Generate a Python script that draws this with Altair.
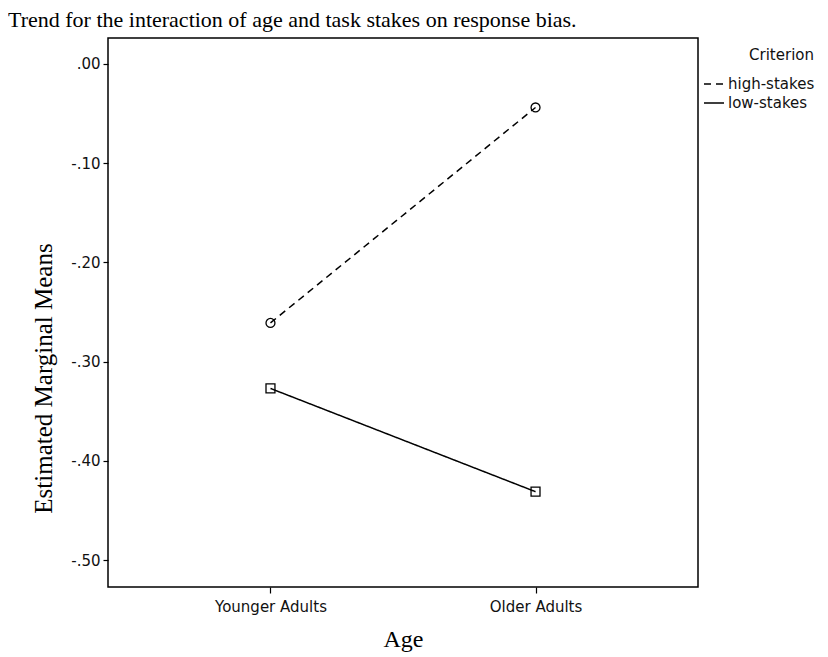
import altair as alt
import pandas as pd

ages = ["Younger Adults", "Older Adults"]
criteria = ["high-stakes", "low-stakes"]
high_stakes = [-0.261, -0.044]
low_stakes = [-0.327, -0.431]
marker_shapes = ["circle", "square"]

rows = []
for crit, vals in zip(criteria, [high_stakes, low_stakes]):
    for a, v in zip(ages, vals):
        rows.append({"Age": a, "Criterion": crit, "Mean": v})
df = pd.DataFrame(rows)

SANS = "DejaVu Sans"
SERIF = "Liberation Serif"

x = alt.X("Age:N", sort=ages,
          scale=alt.Scale(type="point", padding=0.613),
          axis=alt.Axis(title="Age", titleFont=SERIF, titleFontSize=24,
                        titleFontWeight="normal", titleColor="black",
                        titlePadding=13,
                        labelFont=SANS, labelFontSize=15, labelColor="#111",
                        labelAngle=0, labelPadding=6,
                        tickSize=6, tickColor="black", tickWidth=1.2,
                        domain=False, grid=False))
y = alt.Y("Mean:Q",
          scale=alt.Scale(domain=[-0.527, 0.026], nice=False, zero=False),
          axis=alt.Axis(title="Estimated Marginal Means", titleFont=SERIF,
                        titleFontSize=25, titleFontWeight="normal",
                        titleColor="black", titleX=-65, titleY=340,
                        titleAngle=-90, titleAlign="center",
                        titleBaseline="middle",
                        values=[0, -0.1, -0.2, -0.3, -0.4, -0.5],
                        labelExpr="(datum.value < -0.0001 ? '-' : '') + replace(format(abs(datum.value), '.2f'), '0.', '.')",
                        labelFont=SANS, labelFontSize=15, labelColor="#111",
                        labelPadding=3, tickSize=5, tickColor="black",
                        tickWidth=1.2, domain=False, grid=False))

lines = alt.Chart(df).mark_line(color="black", strokeWidth=1.5).encode(
    x=x, y=y,
    strokeDash=alt.StrokeDash(
        "Criterion:N", sort=criteria,
        scale=alt.Scale(domain=criteria, range=[[7, 5], [1, 0]]),
        legend=alt.Legend(title="Criterion", orient="none", legendX=595,
                          legendY=10, titleFont=SANS, titleFontSize=15,
                          titleFontWeight="normal", titleColor="#111",
                          titleAnchor="end", titlePadding=10,
                          labelFont=SANS, labelFontSize=15,
                          labelColor="#111", symbolType="stroke",
                          symbolSize=400, symbolStrokeColor="black",
                          symbolStrokeWidth=1.5, rowPadding=-3,
                          labelOffset=3)),
)

point_layers = []
for crit, shp in zip(criteria, marker_shapes):
    point_layers.append(
        alt.Chart(df).transform_filter(alt.datum.Criterion == crit)
        .mark_point(color="black", filled=False, strokeWidth=1.3, size=80,
                    opacity=1, shape=shp)
        .encode(x=x, y=y)
    )

chart = alt.layer(lines, *point_layers).properties(
    width=590, height=549,
    title=alt.TitleParams(
        "Trend for the interaction of age and task stakes on response bias.",
        font=SERIF, fontSize=22, fontWeight="normal", color="black",
        anchor="start", frame="group", dx=-100, offset=6),
    autosize=alt.AutoSizeParams(type="none"),
    padding={"left": 100, "top": 30, "right": 120, "bottom": 68},
).configure(background="white").configure_view(stroke="black", strokeWidth=1.5)

chart.save("out.html", embed_options={"renderer": "svg", "actions": False})
